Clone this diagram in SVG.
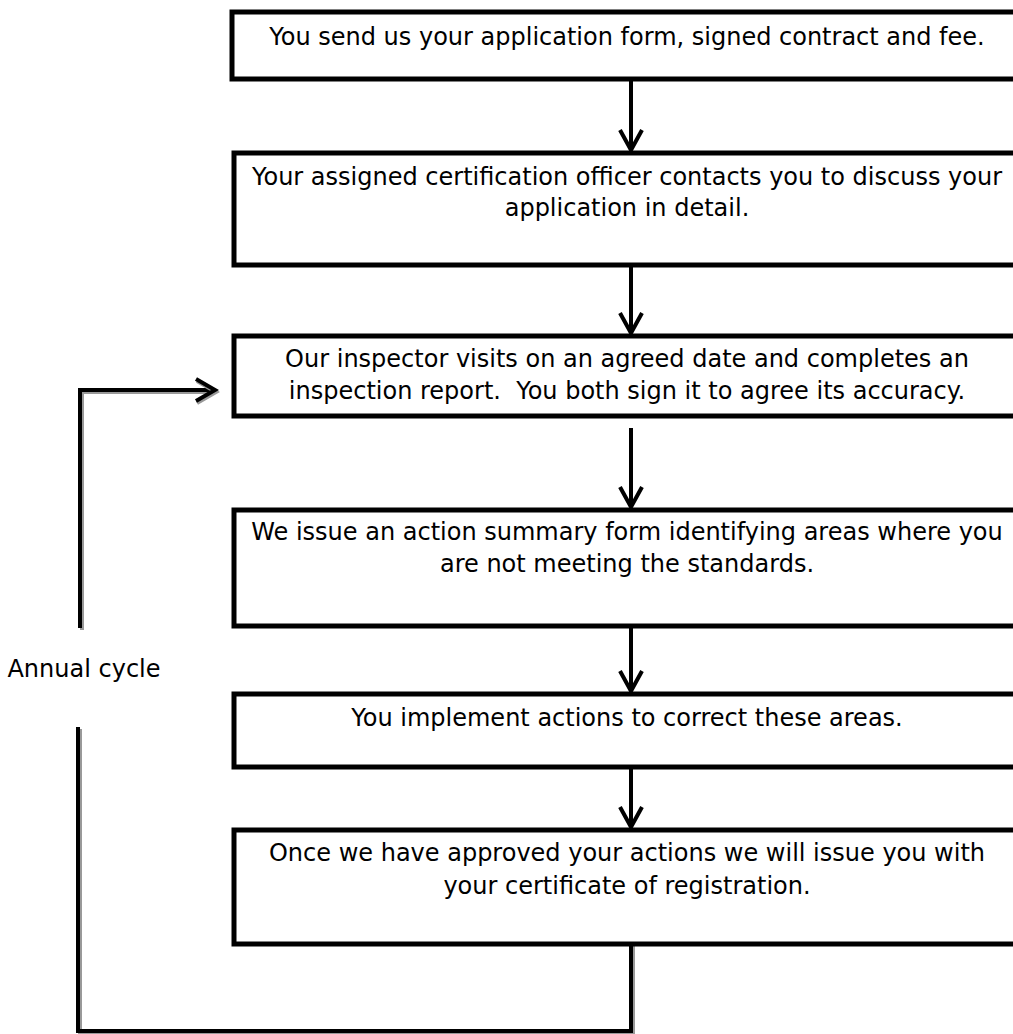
<svg xmlns="http://www.w3.org/2000/svg" width="1013" height="1034" viewBox="0 0 1013 1034">
<style>
.box{fill:#fff;stroke:#000;stroke-width:5}
.t{font-family:"DejaVu Sans",Verdana,sans-serif;font-size:24px;fill:#000;text-anchor:middle}
.ln{fill:none;stroke:#000;stroke-width:4}
.sh{fill:none;stroke:#999;stroke-width:4}
.ah{fill:none;stroke:#000;stroke-width:4;stroke-linejoin:miter}
</style>
<rect width="1013" height="1034" fill="#fff"/>
<g id="connectors">
<line class="ln" x1="631" y1="80" x2="631" y2="150"/>
<polyline class="ah" points="620,130 631,150 642,130"/>
<line class="ln" x1="631" y1="266" x2="631" y2="333"/>
<polyline class="ah" points="620,313 631,333 642,313"/>
<line class="ln" x1="631" y1="428" x2="631" y2="507"/>
<polyline class="ah" points="620,487 631,507 642,487"/>
<line class="ln" x1="631" y1="627" x2="631" y2="691"/>
<polyline class="ah" points="620,671 631,691 642,671"/>
<line class="ln" x1="631" y1="768" x2="631" y2="827"/>
<polyline class="ah" points="620,807 631,827 642,807"/>
<polyline class="sh" points="82,630 82,392 214,392"/>
<polyline class="ln" points="80,628 80,390 214,390"/>
<polyline class="sh" points="197,381 216,392 197,403"/>
<polyline class="ah" points="196,379 215,390 196,401"/>
<polyline class="sh" points="633,946 633,1033 80,1033 80,729"/>
<polyline class="ln" points="631,946 631,1031 78,1031 78,727"/>
</g>
<g id="n1"><rect class="box" x="232" y="12" width="800" height="67"/><text class="t" x="627" y="45">You send us your application form, signed contract and fee.</text></g>
<g id="n2"><rect class="box" x="234" y="153" width="800" height="112"/><text class="t" x="627" y="185">Your assigned certification officer contacts you to discuss your</text><text class="t" x="627" y="216">application in detail.</text></g>
<g id="n3"><rect class="box" x="234" y="336" width="800" height="80"/><text class="t" x="627" y="367">Our inspector visits on an agreed date and completes an</text><text class="t" x="627" y="399">inspection report.&#160; You both sign it to agree its accuracy.</text></g>
<g id="n4"><rect class="box" x="234" y="510" width="800" height="116"/><text class="t" x="627" y="540">We issue an action summary form identifying areas where you</text><text class="t" x="627" y="572">are not meeting the standards.</text></g>
<g id="n5"><rect class="box" x="234" y="694" width="800" height="73"/><text class="t" x="627" y="726">You implement actions to correct these areas.</text></g>
<g id="n6"><rect class="box" x="234" y="830" width="800" height="114"/><text class="t" x="627" y="861">Once we have approved your actions we will issue you with</text><text class="t" x="627" y="894">your certificate of registration.</text></g>
<g id="label"><text class="t" x="84" y="677">Annual cycle</text></g>
</svg>
